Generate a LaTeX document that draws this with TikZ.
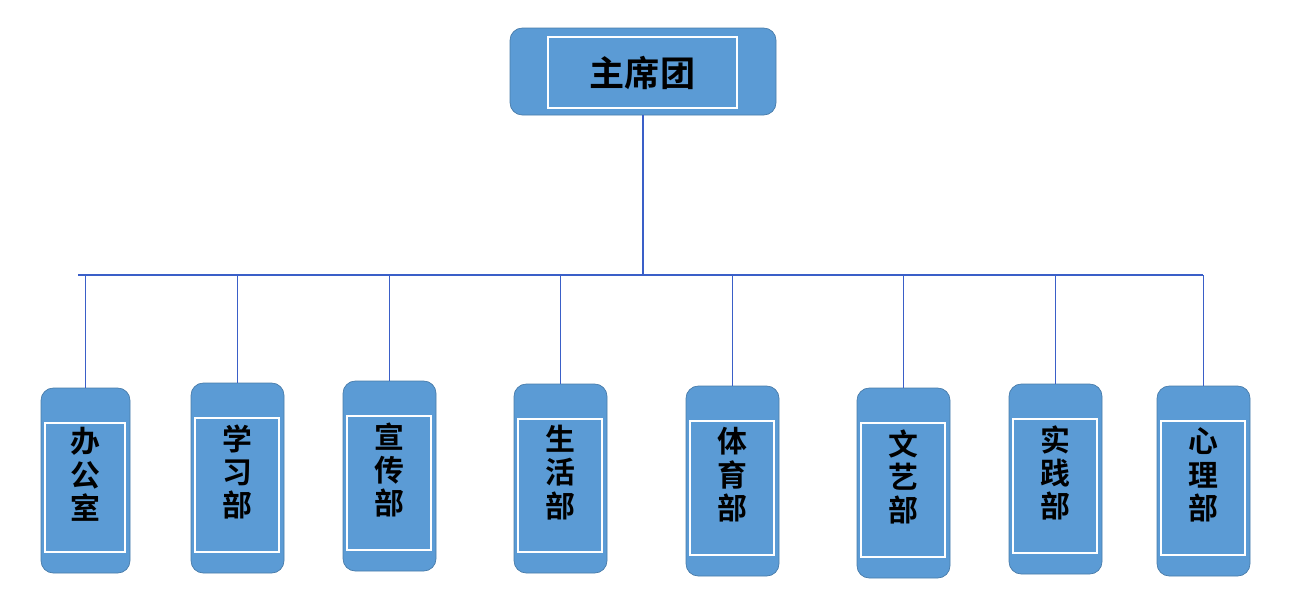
\documentclass[tikz,border=0pt]{standalone}
\usepackage{fontspec}
\newfontfamily\cjk{Noto Sans CJK SC}[BoldFont={Noto Sans CJK SC Bold}]
\definecolor{bx}{HTML}{5B9BD5}
\definecolor{ln}{HTML}{3A5FC8}
\begin{document}
\begin{tikzpicture}[x=0.02cm,y=-0.02cm,
 outer/.style={fill=bx,draw=bx!80!black,line width=0.4pt,rounded corners=7pt},
 inner/.style={draw=white,line width=1.6pt,fill=bx},
 lbl/.style={font=\cjk\bfseries\fontsize{17pt}{19pt}\selectfont,align=center,text=black},
 con/.style={draw=ln,line width=0.7pt}]
\useasboundingbox (0,0) rectangle (1300,596);
% top
\draw[outer] (510,28) rectangle (776,115);
\draw[inner] (548,37) rectangle (737,108);
\node[lbl,font=\cjk\bfseries\fontsize{20pt}{22pt}\selectfont] (top) at (642.5,72.5) {主席团};
\coordinate (tb) at (643,115);
\coordinate (hj) at (643,275);
\draw[con] (tb) -- (hj);
\coordinate (hl) at (78,275);
\coordinate (hr) at (1203,275);
\draw[con] (hl) -- (hr);
\foreach \i/\xa/\xb/\ya/\yb/\t in {1/41/130/388/573/{办\\公\\室},2/191/284/383/573/{学\\习\\部},3/343/436/381/571/{宣\\传\\部},4/514/607/384/573/{生\\活\\部},5/686/779/386/576/{体\\育\\部},6/857/950/388/578/{文\\艺\\部},7/1009/1102/384/574/{实\\践\\部},8/1157/1250/386/576/{心\\理\\部}}{
 \draw[outer] (\xa,\ya) rectangle (\xb,\yb);
 \draw[inner] (\xa+4,\ya+35) rectangle (\xb-5,\yb-21);
 \node[lbl] (b\i) at ({(\xa+\xb)/2},{(\ya+\yb)/2-6}) {\t};
 \coordinate (t\i) at ({(\xa+\xb)/2},\ya);
 \coordinate (h\i) at ({(\xa+\xb)/2},275);
 \draw[con] (h\i) -- (t\i);
}
\end{tikzpicture}
\end{document}
